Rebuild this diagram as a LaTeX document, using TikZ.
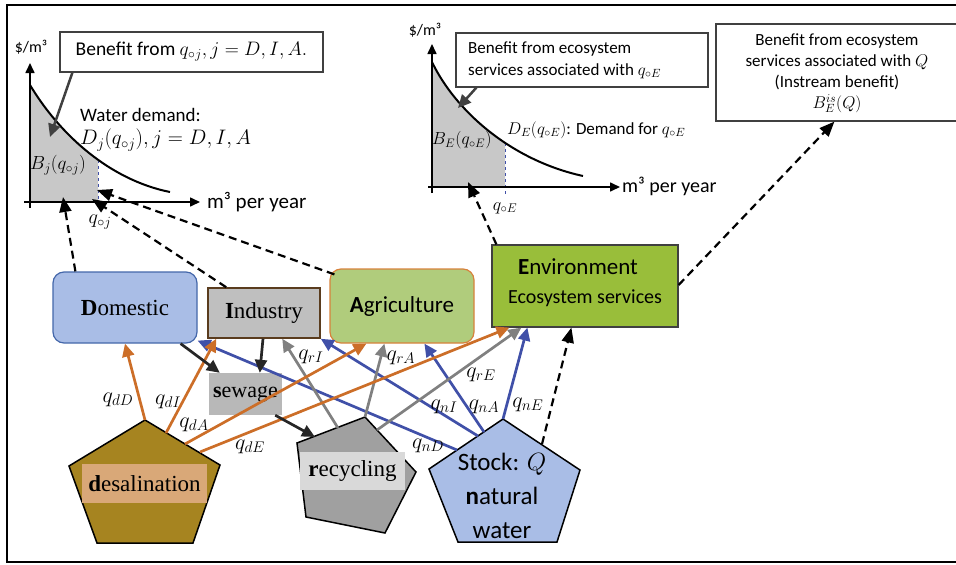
\RequirePackage{fix-cm}
\documentclass[tikz,border=0pt]{standalone}
\usepackage{fontspec}
\setmainfont{Liberation Serif}
\setsansfont{Carlito}
\newfontfamily\serifF{Liberation Serif}
\usetikzlibrary{arrows.meta}
\definecolor{domFill}{RGB}{169,189,230}
\definecolor{domLine}{RGB}{68,103,170}
\definecolor{indFill}{RGB}{191,191,191}
\definecolor{indLine}{RGB}{90,60,30}
\definecolor{agrFill}{RGB}{176,204,124}
\definecolor{agrLine}{RGB}{215,130,60}
\definecolor{envFill}{RGB}{153,190,58}
\definecolor{sewFill}{RGB}{184,184,184}
\definecolor{desFill}{RGB}{166,132,32}
\definecolor{desLab}{RGB}{217,168,120}
\definecolor{recFill}{RGB}{160,160,160}
\definecolor{recLab}{RGB}{217,217,217}
\definecolor{orangeC}{RGB}{204,110,40}
\definecolor{blueC}{RGB}{64,80,168}
\definecolor{grayC}{RGB}{128,128,128}
\definecolor{shadeC}{RGB}{200,200,200}
\definecolor{darkC}{RGB}{64,64,64}
\begin{document}
\begin{tikzpicture}[x=1pt,y=-1pt,
  serifbig/.style={font=\serifF\fontsize{23}{27}\selectfont},
  sansbig/.style={font=\sffamily\fontsize{23}{27}\selectfont},
  qlab/.style={font=\fontsize{22}{26}\selectfont, inner sep=0pt},
  txt/.style={inner sep=0pt},
  conn/.style={line width=2.7pt, -{Triangle[length=13pt,width=12pt]}},
  oarr/.style={conn, draw=orangeC},
  barr/.style={conn, draw=blueC},
  garr/.style={conn, draw=grayC},
  karr/.style={conn, draw=black!85},
  darr/.style={line width=2.2pt, dash pattern=on 8pt off 5pt, -{Triangle[length=15pt,width=12pt]}},
  axis/.style={line width=1.6pt, -{Triangle[length=10pt,width=9pt]}}
]
\useasboundingbox (0,0) rectangle (956,565);
% frame
\draw[line width=2pt] (956,5) -- (7,5) -- (7,562) -- (956,562);

% ---------- left chart ----------
\begin{scope}
\clip (30,0) rectangle (98,202);
\fill[shadeC] (30,202) -- (30,85) .. controls (60,135) and (110,180) .. (170,192) -- (170,202) -- cycle;
\end{scope}
\draw[blueC, line width=0.8pt] (30,85) -- (30,202);
\draw[blueC, line width=1pt, dashed] (98,160) -- (98,202);
\draw[line width=2pt] (30,85) .. controls (60,135) and (110,180) .. (170,192);
\draw[axis] (30,208) -- (30,63);
\draw[axis] (24,202) -- (200,202);
\node[txt, font=\sffamily\fontsize{16}{20}\selectfont] (ly) at (31,47) {\$/m³};
\node[txt, anchor=west, font=\sffamily\fontsize{21}{25}\selectfont] (lx) at (207,202) {m³ per year};
\node[txt, anchor=west, font=\sffamily\fontsize{19}{23}\selectfont] (wd) at (80,115) {Water demand:};
\node[txt, anchor=west, font=\fontsize{21}{25}\selectfont] (dj) at (80,140) {$D_j\bigl(q_{\circ j}\bigr), j = D, I, A$};
\node[txt, anchor=west, font=\fontsize{19}{23}\selectfont] (bj) at (30,165) {$B_j(q_{\circ j})$};
\node[txt, font=\fontsize{20}{24}\selectfont] (qj) at (100,222) {$q_{\circ j}$};
\node[draw=darkC, line width=1.2pt, minimum width=263, minimum height=40, inner sep=0pt,
      font=\sffamily\fontsize{19.5}{23}\selectfont] (lbox) at (191.5,52) {Benefit from $q_{\circ j}, j = D, I, A.$};
\coordinate (lboxTip) at (50,137);
\draw[line width=2.5pt, darkC, -{Triangle[length=13pt,width=12pt]}] ([xshift=13pt]lbox.south west) -- (lboxTip);
\coordinate (tipD) at (63,197);
\coordinate (tipI) at (92,199);
\coordinate (tipA) at (97,190);

% ---------- right chart ----------
\begin{scope}
\clip (432,0) rectangle (505,187);
\fill[shadeC] (432,187) -- (432,62) .. controls (455,110) and (510,160) .. (583,176) -- (583,187) -- cycle;
\end{scope}
\draw[blueC, line width=0.8pt] (432,62) -- (432,187);
\draw[blueC, line width=1pt, dashed] (505,143) -- (505,195);
\draw[line width=2pt] (432,62) .. controls (455,110) and (510,160) .. (583,176);
\draw[axis] (432,193) -- (432,44);
\draw[axis] (428,187) -- (620,187);
\node[txt, font=\sffamily\fontsize{16}{20}\selectfont] (ry) at (425,30) {\$/m³};
\node[txt, anchor=west, font=\sffamily\fontsize{20}{24}\selectfont] (rx) at (622,186) {m³ per year};
\node[txt, font=\fontsize{18}{22}\selectfont] (qe) at (505,208) {$q_{\circ E}$};
\node[txt, anchor=west, font=\fontsize{17.5}{21}\selectfont] (be) at (432,140) {$B_E(q_{\circ E})$};
\node[txt, anchor=west, font=\sffamily\fontsize{17}{20}\selectfont] (de) at (507,130) {$D_E(q_{\circ E})$: Demand for $q_{\circ E}$};
\node[draw=darkC, line width=1.2pt, minimum width=252, minimum height=54, inner sep=0pt] (rcbox) at (582,60) {};
\node[txt, anchor=west, align=left, font=\sffamily\fontsize{17}{22}\selectfont] (rcboxT) at (468,60) {Benefit from ecosystem\\services associated with $q_{\circ E}$};
\coordinate (rcTip) at (458,108);
\draw[line width=2.5pt, darkC, -{Triangle[length=13pt,width=12pt]}] ([xshift=21pt]rcbox.south west) -- (rcTip);
\coordinate (tipE) at (468,182);

% right box
\node[draw=darkC, line width=1.2pt, minimum width=242, minimum height=97, inner sep=0pt] (rbox) at (837,72.5) {};
\node[txt, align=center, font=\sffamily\fontsize{17}{21}\selectfont] (rboxT) at (837,73) {Benefit from ecosystem\\services associated with $Q$\\(Instream benefit)\\$B_E^{is}(Q)$};

% ---------- demand nodes ----------
\node[draw=domLine, fill=domFill, line width=1.2pt, rounded corners=11pt, minimum width=144, minimum height=71, serifbig] (dom) at (125,307.5) {\textbf{D}omestic};
\node[draw=indLine, fill=indFill, line width=1.5pt, minimum width=112, minimum height=50, serifbig] (ind) at (264,313) {\textbf{I}ndustry};
\node[draw=agrLine, fill=agrFill, line width=1.2pt, rounded corners=11pt, minimum width=144, minimum height=74, sansbig] (agr) at (402,306) {\textbf{A}griculture};
\node[draw=darkC, fill=envFill, line width=1.2pt, minimum width=186, minimum height=82] (env) at (585,286) {};
\node[txt, font=\sffamily\fontsize{23}{27}\selectfont] (envT1) at (578,267) {\textbf{E}nvironment};
\node[txt, font=\sffamily\fontsize{20}{24}\selectfont] (envT2) at (585,298) {Ecosystem services};
\node[fill=sewFill, minimum width=73, minimum height=42, inner sep=0pt, font=\serifF\fontsize{22}{26}\selectfont] (sew) at (245.5,394) {\textbf{s}ewage};

% ---------- sources ----------
\coordinate (d1) at (145,420); \coordinate (d2) at (220,465); \coordinate (d3) at (193,543);
\coordinate (d4) at (97,543); \coordinate (d5) at (69,466);
\draw[fill=desFill, line width=1.5pt] (d1)--(d2)--(d3)--(d4)--(d5)--cycle;
\node[fill=desLab, minimum width=125, minimum height=39, inner sep=0pt, serifbig] (des) at (144.5,483.5) {\textbf{d}esalination};

\coordinate (r1) at (365,417); \coordinate (r2) at (416,472); \coordinate (r3) at (385,533);
\coordinate (r4) at (306,517); \coordinate (r5) at (297,443);
\draw[fill=recFill, line width=1.5pt] (r1)--(r2)--(r3)--(r4)--(r5)--cycle;
\node[fill=recLab, minimum width=105, minimum height=38, inner sep=0pt, serifbig] (rec) at (352.5,471) {\textbf{r}ecycling};

\coordinate (n1) at (503,419); \coordinate (n2) at (580,470); \coordinate (n3) at (557,542);
\coordinate (n4) at (458,542); \coordinate (n5) at (429,469);
\draw[fill=domFill, line width=1.5pt] (n1)--(n2)--(n3)--(n4)--(n5)--cycle;
\node[txt, align=center, font=\sffamily\fontsize{25}{34}\selectfont] (nat) at (502,496) {Stock: $Q$\\\textbf{n}atural\\water};

% start points
\coordinate (dI) at (166,433); \coordinate (dA) at (185,444); \coordinate (dE) at (200,452);
\coordinate (rI) at (338,428); \coordinate (rE) at (377,430); \coordinate (rS) at (315,437);
\coordinate (nD) at (457,450); \coordinate (nI) at (478,436); \coordinate (nA) at (484,432);
\coordinate (nK) at (542,444);

% ---------- connectors ----------
\draw[barr] (nD) -- ([yshift=3pt]dom.south east);
\draw[barr] (nI) -- (ind.south east);
\draw[barr] (nA) -- ([xshift=95pt]agr.south west);
\draw[barr] (n1) -- ([xshift=36pt]env.south west);
\draw[garr] (rI) -- ([xshift=75pt]ind.south west);
\draw[garr] (r1) -- ([xshift=55pt]agr.south west);
\draw[garr] (rE) -- ([xshift=30pt]env.south west);
\draw[oarr] (d1) -- (dom.south);
\draw[oarr] (dI) -- ([xshift=9pt]ind.south west);
\draw[oarr] (dA) -- ([xshift=37pt]agr.south west);
\draw[oarr] (dE) -- ([xshift=18pt]env.south west);
\draw[karr] ([xshift=-17pt]dom.south east) -- ([xshift=11pt]sew.north west);
\draw[karr] ([xshift=-1pt]ind.south) -- ([xshift=51pt]sew.north west);
\draw[karr] ([xshift=-7pt]sew.south east) -- (rS);
\draw[darr] (nK) -- ([xshift=80pt]env.south west);
\draw[darr] ([xshift=23pt]dom.north west) -- (tipD);
\draw[darr] ([xshift=19pt]ind.north west) -- (tipI);
\draw[darr] ([shift={(5pt,-6pt)}]agr.north west) -- (tipA);
\draw[darr] ([xshift=5pt]env.north west) -- (tipE);
\draw[darr] ([yshift=1pt]env.east) -- ([xshift=119pt]rbox.south west);

% labels
\node[qlab] (lqdD) at (118,400) {$q_{dD}$};
\node[qlab] (lqdI) at (168,402) {$q_{dI}$};
\node[qlab] (lqdA) at (194,425) {$q_{dA}$};
\node[qlab] (lqdE) at (250,447) {$q_{dE}$};
\node[qlab] (lqnD) at (428,446) {$q_{nD}$};
\node[qlab] (lqnI) at (444,407) {$q_{nI}$};
\node[qlab] (lqnA) at (484,407) {$q_{nA}$};
\node[qlab] (lqnE) at (528,405) {$q_{nE}$};
\node[qlab] (lqrI) at (311,357) {$q_{rI}$};
\node[qlab] (lqrA) at (401,358) {$q_{rA}$};
\node[qlab] (lqrE) at (481,375) {$q_{rE}$};
\end{tikzpicture}
\end{document}
